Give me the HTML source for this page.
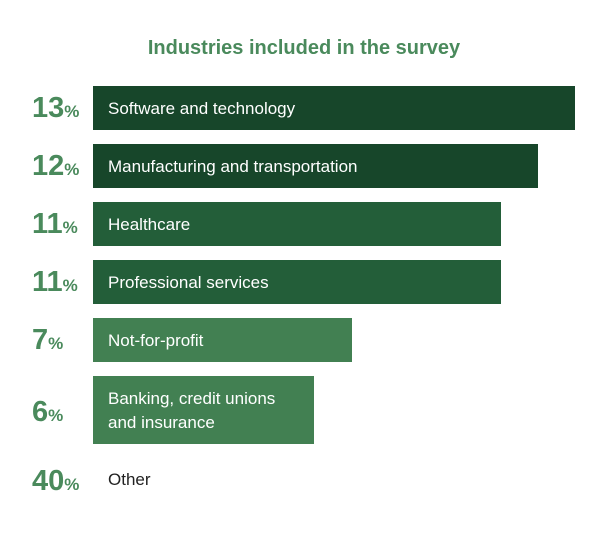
<!DOCTYPE html>
<html><head><style>
body{margin:0;width:608px;height:537px;background:#fff;font-family:"Liberation Sans",sans-serif;position:relative;overflow:hidden}
.t{position:absolute;top:37px;left:0;width:608px;text-align:center;font-size:20px;color:#4a8a5c;font-weight:bold}
.n{position:absolute;left:32px;color:#4a8a5c;font-weight:bold;font-size:29px;letter-spacing:0}
.n span{font-size:17px}
.b{position:absolute;left:93px;color:#fff;font-size:17px;box-sizing:border-box;padding-left:15px;padding-top:2px;display:flex;align-items:center;line-height:24px}
</style></head><body>
<div class="t">Industries included in the survey</div>
<div class="n" style="top:92px">13<span>%</span></div>
<div class="b" style="top:86px;width:482px;height:44px;background:#17462a">Software and technology</div>
<div class="n" style="top:150px">12<span>%</span></div>
<div class="b" style="top:144px;width:445px;height:44px;background:#17462a">Manufacturing and transportation</div>
<div class="n" style="top:208px">11<span>%</span></div>
<div class="b" style="top:202px;width:408px;height:44px;background:#235e39">Healthcare</div>
<div class="n" style="top:266px">11<span>%</span></div>
<div class="b" style="top:260px;width:408px;height:44px;background:#235e39">Professional services</div>
<div class="n" style="top:324px">7<span>%</span></div>
<div class="b" style="top:318px;width:259px;height:44px;background:#428052">Not-for-profit</div>
<div class="n" style="top:396px">6<span>%</span></div>
<div class="b" style="top:376px;width:221px;height:68px;background:#428052">Banking, credit unions<br>and insurance</div>
<div class="n" style="top:465px">40<span>%</span></div>
<div class="b" style="top:467px;width:300px;height:24px;color:#222">Other</div>
</body></html>
